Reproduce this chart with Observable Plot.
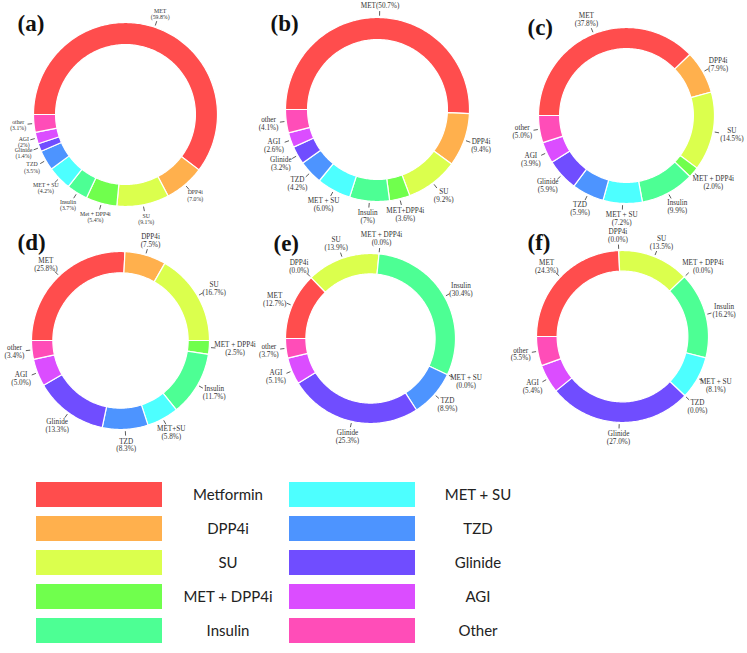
<!DOCTYPE html>
<html>
<head>
<meta charset="utf-8">
<script src="https://cdn.jsdelivr.net/npm/d3@7"></script>
<script src="https://cdn.jsdelivr.net/npm/@observablehq/plot@0.6"></script>
<style>
  body { margin: 0; background: #fff; }
  #legend { position: relative; width: 747px; height: 193px; font-family: Lato, "Open Sans", sans-serif; font-size: 15px; color: #222; }
  .sw { position: absolute; width: 126px; height: 25px; }
  .lb { position: absolute; width: 160px; text-align: center; line-height: 25px; }
</style>
</head>
<body>
<div id="chart"></div>
<div id="legend"></div>
<script>
// treatment classes, in the order the slices run (clockwise from 9 o'clock)
const drugs = ["Metformin", "DPP4i", "SU", "MET + DPP4i", "Insulin", "MET + SU", "TZD", "Glinide", "AGI", "Other"];
const drugColors = ["#ff4d4d", "#ffb04d", "#dbff4d", "#70ff4d", "#4dff94", "#4dffff", "#4d94ff", "#704dff", "#db4dff", "#ff4db8"];

const panelIds = ["(a)", "(b)", "(c)", "(d)", "(e)", "(f)"];

// slice labels as printed in each panel
const namesA = ["MET", "DPP4i", "SU", "Met + DPP4i", "Insulin", "MET + SU", "TZD", "Glinide", "AGI", "other"];
const namesB = ["MET", "DPP4i", "SU", "MET+DPP4i", "Insulin", "MET + SU", "TZD", "Glinide", "AGI", "other"];
const namesC = ["MET", "DPP4i", "SU", "MET + DPP4i", "Insulin", "MET + SU", "TZD", "Glinide", "AGI", "other"];
const namesD = ["MET", "DPP4i", "SU", "MET + DPP4i", "Insulin", "MET+SU", "TZD", "Glinide", "AGI", "other"];
const namesE = namesC;
const namesF = namesC;

// shares (%) as printed
const pctA = ["59.8", "7.0", "9.1", "5.4", "3.7", "4.2", "3.5", "1.4", "2", "3.1"];
const pctB = ["50.7", "9.4", "9.2", "3.6", "7", "6.0", "4.2", "3.2", "2.6", "4.1"];
const pctC = ["37.8", "7.9", "14.5", "2.0", "9.9", "7.2", "5.9", "5.9", "3.9", "5.0"];
const pctD = ["25.8", "7.5", "16.7", "2.5", "11.7", "5.8", "8.3", "13.3", "5.0", "3.4"];
const pctE = ["12.7", "0.0", "13.9", "0.0", "30.4", "0.0", "8.9", "25.3", "5.1", "3.7"];
const pctF = ["24.3", "0.0", "13.5", "0.0", "16.2", "8.1", "0.0", "27.0", "5.4", "5.5"];

const panelPct = [pctA, pctB, pctC, pctD, pctE, pctF];
const panelNames = [namesA, namesB, namesC, namesD, namesE, namesF];

// layout: ring centre / radius, label font size, panel letter position
const layout = [
  {cx: 125, cy: 114, r: 92, fs: 5.8, lx: 17, ly: 23},
  {cx: 377, cy: 109, r: 92, fs: 7.2, lx: 270, ly: 23},
  {cx: 626, cy: 115, r: 88, fs: 7.2, lx: 527, ly: 27},
  {cx: 120, cy: 340, r: 89, fs: 7.2, lx: 17, ly: 242},
  {cx: 370, cy: 338, r: 85, fs: 7.2, lx: 273, ly: 243},
  {cx: 622, cy: 336, r: 86, fs: 7.2, lx: 527, ly: 242}
];
const inner = 0.76;

const rad = t => t * Math.PI / 180;
const slices = [], ticks = [], labels = [];

panelIds.forEach((id, p) => {
  const {cx, cy, r, fs} = layout[p];
  const vals = panelPct[p].map(Number);
  const total = d3.sum(vals);
  let a = -90;
  vals.forEach((v, i) => {
    const a0 = a, a1 = a + v / total * 360;
    a = a1;
    if (v > 0) {
      const n = Math.max(2, Math.ceil(a1 - a0));
      for (let k = 0; k <= n; k++) {
        const t = rad(a0 + (a1 - a0) * k / n);
        slices.push({key: id + i, drug: drugs[i], x: cx + r * Math.sin(t), y: cy - r * Math.cos(t)});
      }
      for (let k = n; k >= 0; k--) {
        const t = rad(a0 + (a1 - a0) * k / n);
        slices.push({key: id + i, drug: drugs[i], x: cx + r * inner * Math.sin(t), y: cy - r * inner * Math.cos(t)});
      }
    }
    const m = rad((a0 + a1) / 2), s = Math.sin(m), c = Math.cos(m);
    ticks.push({x1: cx + r * 1.02 * s, y1: cy - r * 1.02 * c, x2: cx + r * 1.07 * s, y2: cy - r * 1.07 * c});
    const name = panelNames[p][i];
    const text = (p === 1 && i === 0) ? `${name}(${panelPct[p][i]}%)` : `${name}\n(${panelPct[p][i]}%)`;
    const lines = text.split("\n");
    const w = d3.max(lines, l => l.length) * fs * 0.46;
    const h = lines.length * fs * 1.1;
    const rr = r * 1.075 + 1;
    labels.push({x: cx + rr * s + s * w / 2, y: cy - rr * c - c * h / 2, text, fs});
  });
});

const letters = panelIds.map((id, p) => ({id, x: layout[p].lx, y: layout[p].ly}));

const chart = Plot.plot({
  width: 747,
  height: 460,
  margin: 0,
  x: {domain: [0, 747], axis: null},
  y: {domain: [460, 0], axis: null},
  color: {domain: drugs, range: drugColors},
  marks: [
    Plot.line(slices, {x: "x", y: "y", z: "key", fill: "drug", stroke: "white", strokeWidth: 1.2, curve: "linear-closed"}),
    Plot.link(ticks, {x1: "x1", y1: "y1", x2: "x2", y2: "y2", stroke: "#333", strokeWidth: 0.8}),
    Plot.text(labels, {x: "x", y: "y", text: "text", fontSize: d => d.fs, fontFamily: "Liberation Serif", fill: "#333", lineAnchor: "middle", textAnchor: "middle", lineHeight: 1.1}),
    Plot.text(letters, {x: "x", y: "y", text: "id", fontSize: 23, fontWeight: "bold", fontFamily: "Liberation Serif", fill: "#111", textAnchor: "start"})
  ]
});
document.getElementById("chart").append(chart);

// legend: two columns of five
const legend = d3.select("#legend");
drugs.forEach((d, i) => {
  const col = Math.floor(i / 5), row = i % 5;
  const top = 22 + row * 34;
  legend.append("div").attr("class", "sw")
    .style("left", (36 + col * 253) + "px").style("top", top + "px")
    .style("background", drugColors[i]);
  legend.append("div").attr("class", "lb")
    .style("left", (148 + col * 250) + "px").style("top", top + "px")
    .text(d);
});
</script>
</body>
</html>
